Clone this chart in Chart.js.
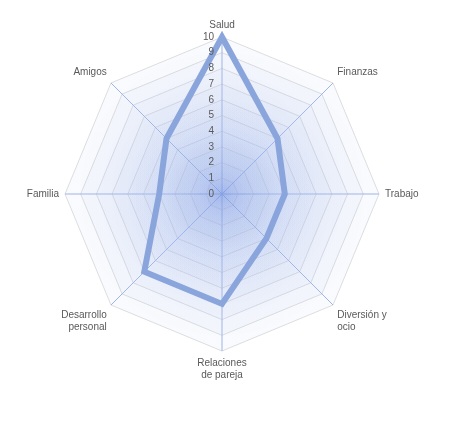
<!DOCTYPE html>
<html><head><meta charset="utf-8">
<script src="https://cdn.jsdelivr.net/npm/chart.js@4/dist/chart.umd.min.js"></script>
<style>html,body{margin:0;background:#fff}#wrap{width:460px;height:427px}</style>
</head><body><div id="wrap"><canvas id="c"></canvas></div>
<script>
const categories = ['Salud', 'Finanzas', 'Trabajo', ['Diversión y', 'ocio'], ['Relaciones', 'de pareja'], ['Desarrollo', 'personal'], 'Familia', 'Amigos'];
const values = [10, 5, 4, 4, 7, 7, 4, 5];
const tickValues = [0, 1, 2, 3, 4, 5, 6, 7, 8, 9, 10];

// shaded rings and tick labels to the left of the vertical axis
const rings = {
    id: 'rings',
    beforeDatasetsDraw(chart) {
        const s = chart.scales.r, ctx = chart.ctx, n = categories.length;
        ctx.save();
        for (let v = 10; v >= 1; v--) {
            const r = s.getDistanceFromCenterForValue(v);
            const g = ctx.createRadialGradient(s.xCenter, s.yCenter, 0, s.xCenter, s.yCenter, r);
            g.addColorStop(0, 'rgba(120,150,225,0.11)');
            g.addColorStop(1, 'rgba(190,205,240,0.09)');
            ctx.beginPath();
            for (let i = 0; i < n; i++) {
                const p = s.getPointPositionForValue(i, v);
                i ? ctx.lineTo(p.x, p.y) : ctx.moveTo(p.x, p.y);
            }
            ctx.closePath();
            ctx.fillStyle = g;
            ctx.fill();
        }
        ctx.restore();
    },
    afterDatasetsDraw(chart) {
        const s = chart.scales.r, ctx = chart.ctx;
        ctx.save();
        ctx.fillStyle = '#595959';
        ctx.font = '10px "Liberation Sans", Arial, sans-serif';
        ctx.textAlign = 'right';
        ctx.textBaseline = 'middle';
        tickValues.forEach(v => {
            const p = s.getPointPositionForValue(0, v);
            ctx.fillText(String(v), p.x - 8, p.y);
        });
        ctx.restore();
    }
};

new Chart(document.getElementById('c'), {
    type: 'radar',
    data: {
        labels: categories,
        datasets: [{
            data: values,
            borderColor: '#8aa5dc',
            borderWidth: 6,
            backgroundColor: 'transparent',
            pointRadius: 0,
            borderJoinStyle: 'miter'
        }]
    },
    options: {
        responsive: true,
        maintainAspectRatio: false,
        animation: false,
        layout: { padding: { top: 14, bottom: 40, left: 6, right: 20 } },
        plugins: { legend: { display: false }, tooltip: { enabled: false } },
        scales: {
            r: {
                min: 0,
                max: 10,
                ticks: { stepSize: 1, display: false },
                grid: { color: '#dedede', lineWidth: 1 },
                angleLines: { color: '#9db2e3', lineWidth: 1 },
                pointLabels: {
                    color: '#595959',
                    font: { size: 10, family: '"Liberation Sans", Arial, sans-serif' },
                    padding: 6
                }
            }
        }
    },
    plugins: [rings]
});
</script></body></html>
